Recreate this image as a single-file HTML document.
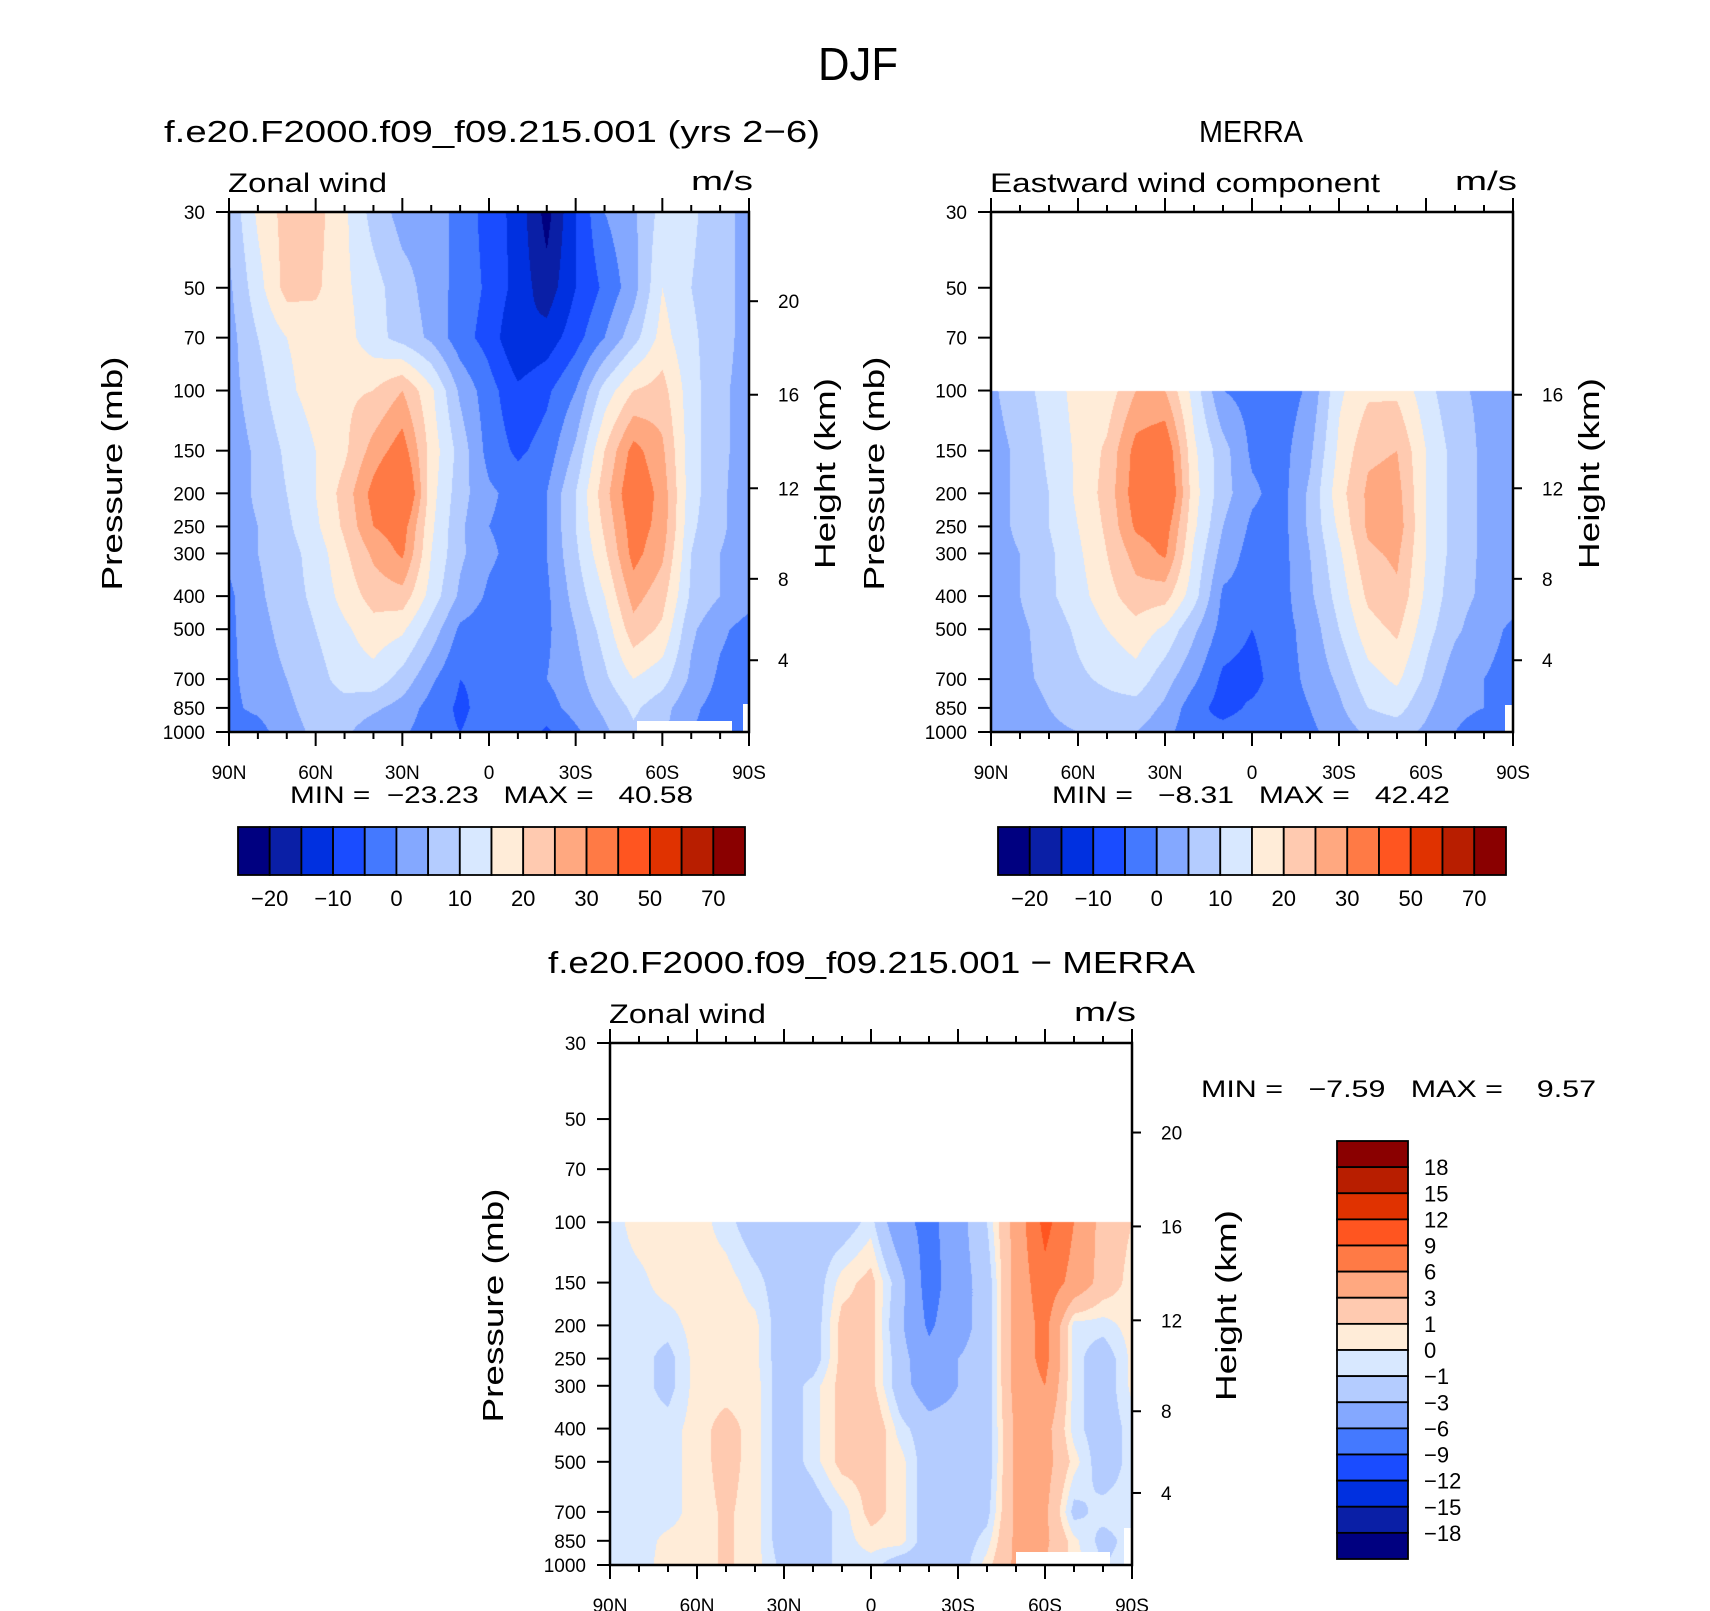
<!DOCTYPE html>
<html><head><meta charset="utf-8">
<style>
html,body{margin:0;padding:0;background:#fff;}
#root{position:relative;width:1710px;height:1611px;overflow:hidden;background:#fff;}
canvas{position:absolute;}
svg{position:absolute;left:0;top:0;}
text{font-family:"Liberation Sans",sans-serif;fill:#000;white-space:pre;}
</style></head>
<body>
<div id="root">
<canvas id="c1"></canvas>
<canvas id="c2"></canvas>
<canvas id="c3"></canvas>
<svg id="svg" width="1710" height="1611"></svg>
</div>
<script>
// ---------- data ----------
const latLabels = ["90N","60N","30N","0","30S","60S","90S"];
const pLevels = [30,50,70,100,150,200,250,300,400,500,700,850,1000];
const pTickLabels = [30,50,70,100,150,200,250,300,400,500,700,850,1000];
const heightKm = [4,8,12,16,20];
const levelsAbs = [-20,-15,-10,-5,0,5,10,15,20,25,30,40,50,60,70];
const levelsDiff = [-18,-15,-12,-9,-6,-3,-1,0,1,3,6,9,12,15,18];
const cbarLabelsAbs = ["−20","−10","0","10","20","30","50","70"];
const cbarLabelsDiff = ["18","15","12","9","6","3","1","0","−1","−3","−6","−9","−12","−15","−18"];
const palette = ["#000080","#0a1fa6","#0030e0","#1a4cff","#4479ff","#84a8ff","#b4ccff","#d8e8ff","#ffecd8","#ffcab0","#ffa880","#ff7a45","#ff5520","#e03200","#b81e00","#8a0000"];
const modelU = [
[6,16,22,22,16,8,3,3,-2,-7,-12,-22,-10,0,4,12,11,7,3],
[4,13,22,21,16,12,7,3,-2,-6,-12,-18,-10,-4,3,15,10,7,3],
[3,10,15,17,17,12,8,4,-3,-7,-15,-13,-7,0,8,17,11,7,3],
[3,8,14,17,19,20,25,16,4,-3,-9,-6,0,12,20,22,12,6,3],
[2,6,11,15,19,27,33,18,8,-2,-6,-3,6,20,32,26,12,6,3],
[2,6,10,15,22,32,40,17,7,1,-2,0,10,23,35,28,12,6,2],
[2,5,9,14,21,30,33,16,6,0,-2,0,10,21,33,28,11,6,2],
[1,5,8,12,19,26,31,15,6,1,-2,0,9,19,32,26,10,5,2],
[-1,4,8,11,17,22,23,13,4,-1,-3,-1,7,15,27,22,9,5,2],
[-1,3,7,10,14,18,16,8,-1,-3,-3,-1,5,12,23,19,6,1,-2],
[-1,2,5,8,12,13,8,1,-5,-4,-2,0,3,9,15,12,4,-1,-3],
[-1,1,4,7,8,6,3,-2,-6,-3,-2,-2,2,6,11,7,1,-2,-3],
[-2,-2,3,6,6,2,1,-3,-5,-3,-1,-6,-1,4,9,6,0,-2,-3]];
const merraU = [
[null,null,null,null,null,null,null,null,null,null,null,null,null,null,null,null,null,null,null],
[null,null,null,null,null,null,null,null,null,null,null,null,null,null,null,null,null,null,null],
[null,null,null,null,null,null,null,null,null,null,null,null,null,null,null,null,null,null,null],
[4,8,12,17,17,25,25,13,0,-2,-3,1,14,19,19,12,6,4,3],
[3,6,11,16,21,32,35,16,7,-1,-2,4,16,24,25,15,8,4,3],
[3,6,10,16,22,33,38,17,7,1,-2,6,18,26,27,15,8,4,3],
[3,6,10,15,21,31,33,16,5,-1,-2,6,16,26,28,15,8,4,3],
[3,5,9,14,20,27,31,14,3,-2,-2,5,14,24,26,15,8,4,3],
[3,5,9,13,18,23,22,12,-1,-2,-2,4,12,21,24,14,7,4,2],
[3,4,7,11,15,18,14,6,-2,-5,-2,2,10,18,21,12,6,2,-1],
[3,4,6,9,11,13,7,1,-6,-7,-2,1,6,13,16,9,2,0,-2],
[2,3,5,7,8,8,4,-3,-7,-4,-2,0,4,10,12,6,1,0,-2],
[1,2,4,5,6,5,2,-4,-3,-2,-2,-1,2,6,7,4,0,-2,-3]];
const diffU = [
[null,null,null,null,null,null,null,null,null,null,null,null,null,null,null,null,null,null,null],
[null,null,null,null,null,null,null,null,null,null,null,null,null,null,null,null,null,null,null],
[null,null,null,null,null,null,null,null,null,null,null,null,null,null,null,null,null,null,null],
[-0.5,0.5,0.5,0.5,-0.5,-2,-2,-2,-2,-0.5,-5,-7,-4,-1,4,10,6,2,1],
[-0.5,-0.3,0.5,0.5,0.5,-0.5,-2,-2,0.5,1.5,-2,-7.5,-4,-2,4,8,5,2,0.5],
[-0.5,-0.5,-0.5,0.5,0.5,0.3,-2,-2,1.5,1.5,-2.5,-6.5,-4,-2,4,7,-0.5,-0.5,0.5],
[-0.5,-0.5,-1.5,0.5,0.5,0.3,-2,-2,1.5,1.5,-2,-5,-3,-2,4,7,-0.5,-2,0.3],
[-0.5,-0.5,-1.5,0.5,0.5,0.5,-2,-0.5,1.5,1.5,-2,-4.5,-3,-2,4,6,-0.5,-2,0.3],
[-0.5,-0.5,-0.5,0.5,1.5,0.5,-2,-0.5,1.5,2.5,-0.5,-2,-2,-2,3.5,4,-0.5,-2,-0.5],
[-0.5,-0.5,-0.5,0.5,1.5,0.5,-2,-0.5,1.5,1.5,0.5,-2,-2,-2,3.5,4,0.5,-2,-0.5],
[-0.5,-0.5,-0.5,0.5,1.2,0.5,-2,-2,-0.5,1.5,0.5,-2,-2,-1.5,3.5,3.5,-1.5,-0.5,-0.5],
[-0.5,-0.5,0.3,0.5,1.2,0.5,-2,-2,-0.5,0.5,0.5,-2,-2,-0.5,3.5,3.5,0.3,-1.5,-0.5],
[-0.5,-0.5,0.5,0.5,1.2,0.5,-1.5,-2,-0.5,-0.5,-2,-2,-2,0.5,3.5,3,0.5,-1,-0.5]];

// ---------- layout ----------
const P1 = {x:229,y:212,w:520,h:520};
const P2 = {x:991,y:212,w:522,h:520};
const P3 = {x:610,y:1043,w:522,h:522};
const LN = Math.log(1000/30);
function yP(P,p){return P.y + P.h*Math.log(p/30)/LN;}
function xLat(P,i){return P.x + P.w*i/6;}
function kmToP(z){return z<=11 ? 1013.25*Math.pow(1-z/44.33,5.256) : 226.3*Math.exp(-(z-11)/6.3416);}
const rowFrac = pLevels.map(p=>Math.log(p/30)/LN);

function colorIdx(v,levels){let i=0;while(i<levels.length && v>=levels[i]) i++;return i;}

function fill(id,P,data,levels){
  const c=document.getElementById(id);
  c.width=P.w;c.height=P.h;c.style.left=P.x+'px';c.style.top=P.y+'px';
  const ctx=c.getContext('2d');const img=ctx.createImageData(P.w,P.h);
  const rgb=palette.map(h=>[parseInt(h.substr(1,2),16),parseInt(h.substr(3,2),16),parseInt(h.substr(5,2),16)]);
  for(let py=0;py<P.h;py++){
    const f=(py+0.5)/P.h;let r=0;while(r<rowFrac.length-2 && f>rowFrac[r+1]) r++;
    const t=(f-rowFrac[r])/(rowFrac[r+1]-rowFrac[r]);
    for(let px=0;px<P.w;px++){
      const g=(px+0.5)/P.w*18;let ci=Math.min(17,Math.floor(g));const s=g-ci;
      const a=data[r][ci],b=data[r][ci+1],cc=data[r+1][ci],d=data[r+1][ci+1];
      const k=(py*P.w+px)*4;
      if(a===null||b===null||cc===null||d===null){img.data[k]=255;img.data[k+1]=255;img.data[k+2]=255;img.data[k+3]=255;continue;}
      const v=(a*(1-s)+b*s)*(1-t)+(cc*(1-s)+d*s)*t;
      const col=rgb[colorIdx(v,levels)];
      img.data[k]=col[0];img.data[k+1]=col[1];img.data[k+2]=col[2];img.data[k+3]=255;
    }
  }
  ctx.putImageData(img,0,0);
}
fill('c1',P1,modelU,levelsAbs);
fill('c2',P2,merraU,levelsAbs);
fill('c3',P3,diffU,levelsDiff);

// ---------- svg ----------
const NS="http://www.w3.org/2000/svg";const svg=document.getElementById('svg');
function mk(tag,attrs,txt){const e=document.createElementNS(NS,tag);for(const k in attrs)e.setAttribute(k,attrs[k]);if(txt!==undefined)e.textContent=txt;svg.appendChild(e);return e;}

let e;
e=mk('text',{x:858,y:80,'font-size':46,'text-anchor':'middle',textLength:80,lengthAdjust:'spacingAndGlyphs'},'DJF');



function panel(P,cfg){
  cfg.masks.forEach(m=>{const r=mk('rect',{x:m[0],y:m[1],width:m[2],height:m[3],fill:'#fff'});
    
    });
  const fr=mk('rect',{x:P.x,y:P.y,width:P.w,height:P.h,fill:'none',stroke:'#000','stroke-width':2.5});
  
  
  for(let i=0;i<=18;i++){
    const x=P.x+P.w*i/18;const L=(i%3===0)?14:7;
    const t1=mk('line',{x1:x,y1:P.y+P.h,x2:x,y2:P.y+P.h+L,stroke:'#000','stroke-width':2});
    
    
    const t2=mk('line',{x1:x,y1:P.y,x2:x,y2:P.y-L,stroke:'#000','stroke-width':2});
    
    
  }
  latLabels.forEach((s,i)=>{const t=mk('text',{x:xLat(P,i),y:P.y+P.h+47,'font-size':19,'text-anchor':'middle'},s);
    
    });
  pTickLabels.forEach(p=>{const y=yP(P,p);
    const l=mk('line',{x1:P.x-13,y1:y,x2:P.x,y2:y,stroke:'#000','stroke-width':2});
    
    
    const t=mk('text',{x:P.x-24,y:y+7,'font-size':19,'text-anchor':'end'},String(p));
    
    });
  heightKm.filter(z=>z<=cfg.maxKm).forEach(z=>{const y=yP(P,kmToP(z));
    const l=mk('line',{x1:P.x+P.w,y1:y,x2:P.x+P.w+9,y2:y,stroke:'#000','stroke-width':2});
    
    
    const t=mk('text',{x:P.x+P.w+29,y:y+7,'font-size':19},String(z));
    
    });
  let t=mk('text',{x:0,y:0,'font-size':29,'text-anchor':'middle',transform:`translate(${P.x-cfg.ytOff},${P.y+P.h*0.503}) rotate(-90)`,textLength:234,lengthAdjust:'spacingAndGlyphs'},'Pressure (mb)');
  
  
  t=mk('text',{x:0,y:0,'font-size':29,'text-anchor':'middle',transform:`translate(${P.x+P.w+cfg.htOff},${P.y+P.h*0.503}) rotate(-90)`,textLength:191,lengthAdjust:'spacingAndGlyphs'},'Height (km)');
  
  
  t=mk('text',{x:P.x-1,y:P.y-20,'font-size':27,textLength:cfg.leftW,lengthAdjust:'spacingAndGlyphs'},cfg.leftStr);
  
  
  t=mk('text',{x:P.x+P.w+4,y:P.y-22,'font-size':27,'text-anchor':'end',textLength:62,lengthAdjust:'spacingAndGlyphs'},'m/s');
  
  
  t=mk('text',{x:cfg.title[1],y:cfg.title[2],'font-size':31,textLength:cfg.title[3],lengthAdjust:'spacingAndGlyphs'},cfg.title[0]);
  
  
  t=mk('text',{x:cfg.mm[1],y:cfg.mm[2],'font-size':24,textLength:cfg.mm[3],lengthAdjust:'spacingAndGlyphs'},cfg.mm[0]);
  
  
}
panel(P1,{id:'model',maxKm:20,ytOff:107,htOff:86,leftStr:'Zonal wind',leftW:159,
  title:['f.e20.F2000.f09_f09.215.001 (yrs 2−6)',164,142,656],
  mm:['MIN =  −23.23   MAX =   40.58',290,803,403],
  masks:[[637,721,95,11],[743,704,6,28]]});
panel(P2,{id:'merra',maxKm:16,ytOff:107,htOff:86,leftStr:'Eastward wind component',leftW:390,
  title:['MERRA',1199,142,104],
  mm:['MIN =   −8.31   MAX =   42.42',1052,803,398],
  masks:[[1505,705,8,27]]});
panel(P3,{id:'diff',maxKm:20,ytOff:107,htOff:104,leftStr:'Zonal wind',leftW:157,
  title:['f.e20.F2000.f09_f09.215.001 − MERRA',548,973,647],
  mm:['MIN =   −7.59   MAX =    9.57',1201,1097,395],
  masks:[[1016,1552,94,13],[1124,1528,8,37]]});

// ---------- colorbars ----------
function hbar(x0,y0,w,h,nm){
  const bw=w/16;
  palette.forEach((c,i)=>{const r=mk('rect',{x:x0+i*bw,y:y0,width:bw,height:h,fill:c,stroke:'#000','stroke-width':1.8});
    
    });
  cbarLabelsAbs.forEach((s,j)=>{const t=mk('text',{x:x0+(2*j+1)*bw,y:y0+h+31,'font-size':22,'text-anchor':'middle'},s);
    
    });
}
hbar(238,827,507,48,'model-colorbar');
hbar(998,827,508,48,'merra-colorbar');
(function(){const x0=1337,y0=1141,w=71,h=418,bh=h/16;
  palette.slice().reverse().forEach((c,i)=>{const r=mk('rect',{x:x0,y:y0+i*bh,width:w,height:bh,fill:c,stroke:'#000','stroke-width':1.8});
    
    });
  cbarLabelsDiff.forEach((s,j)=>{const t=mk('text',{x:x0+w+16,y:y0+(j+1)*bh+8,'font-size':22},s);
    
    });
})();
</script>
</body></html>
